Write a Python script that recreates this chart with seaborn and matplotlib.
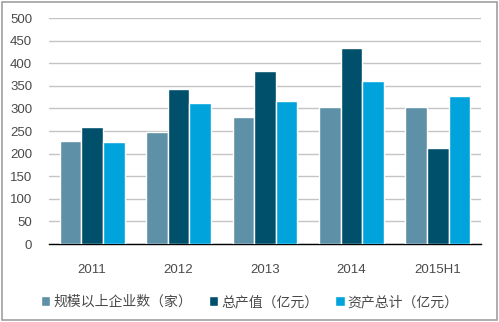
import matplotlib
matplotlib.use("Agg")
import matplotlib.pyplot as plt
import seaborn as sns
import pandas as pd
from matplotlib.patches import Rectangle

years = ["2011", "2012", "2013", "2014", "2015H1"]
enterprises = [227, 247, 281, 303, 303]
output_value = [258, 343, 382, 433, 212]
total_assets = [225, 313, 316, 361, 327]
series_names = ["规模以上企业数（家）", "总产值（亿元）", "资产总计（亿元）"]
colors = ["#5E90A7", "#00506C", "#00A3DC"]

df = pd.DataFrame({
    "year": years * 3,
    "value": enterprises + output_value + total_assets,
    "series": [series_names[0]] * 5 + [series_names[1]] * 5 + [series_names[2]] * 5,
})

sns.set_theme(style="white")
plt.rcParams["font.family"] = ["Liberation Sans", "Noto Sans CJK SC", "DejaVu Sans"]

fig = plt.figure(figsize=(4.99, 3.22), dpi=100)
ax = fig.add_axes([0.098, 0.242, 0.866, 0.702])

sns.barplot(data=df, x="year", y="value", hue="series", palette=colors,
            width=0.75, gap=0, saturation=1, ax=ax, zorder=3)

ax.set_ylim(0, 500)
ax.set_yticks(range(0, 501, 50))
ax.yaxis.grid(True, color="#C4C4C4", linewidth=1.0, zorder=0)
ax.set_axisbelow(True)
ax.set_xlabel("")
ax.set_ylabel("")
for side in ["top", "right", "left"]:
    ax.spines[side].set_visible(False)
ax.spines["bottom"].set_color("#000000")
ax.spines["bottom"].set_linewidth(1.0)
ax.tick_params(axis="both", length=0, labelsize=9.5, colors="#4A4A4A")
ax.tick_params(axis="x", pad=14)
ax.tick_params(axis="y", pad=12)

handles, labels = ax.get_legend_handles_labels()
ax.legend_.remove()
fig.legend(handles, labels, loc="center", bbox_to_anchor=(0.5, 0.062), ncol=3,
           frameon=False, fontsize=10, handlelength=0.7, handleheight=0.7,
           handletextpad=0.2, columnspacing=1.2, labelcolor="#4A4A4A")

fig.patches.append(Rectangle((0.004, 0.006), 0.992, 0.988, transform=fig.transFigure,
                             fill=False, edgecolor="#A0A0A0", linewidth=1.2))

fig.savefig("out.png", dpi=100)
